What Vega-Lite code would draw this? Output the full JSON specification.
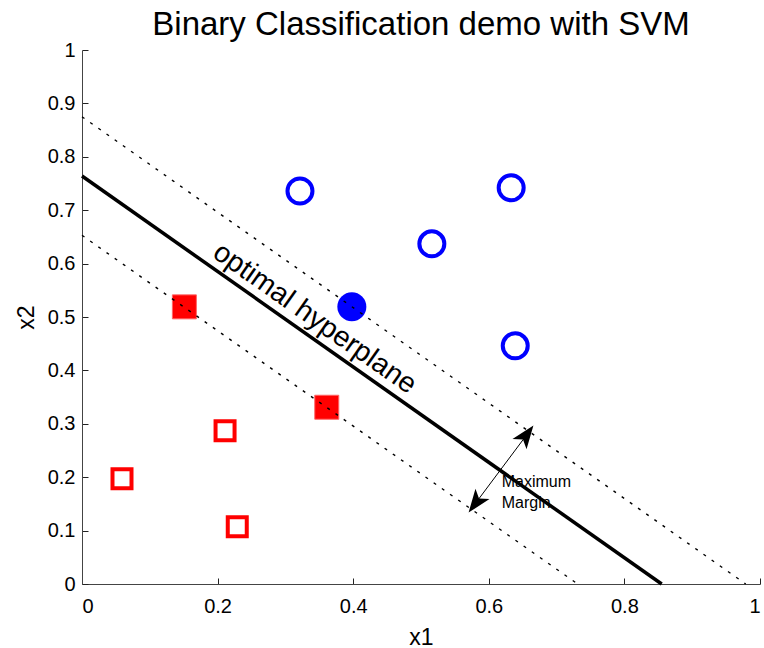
{
  "$schema": "https://vega.github.io/schema/vega-lite/v6.json",
  "width": 678,
  "height": 534,
  "autosize": "none",
  "padding": {"left": 82, "top": 50, "right": 4, "bottom": 64},
  "background": "white",
  "config": {
    "view": {"stroke": null},
    "font": "Liberation Sans",
    "axis": {
      "grid": false,
      "domainColor": "#444444",
      "domainWidth": 1,
      "tickColor": "#222222",
      "tickSize": -6,
      "labelFont": "Liberation Sans",
      "labelFontSize": 20,
      "labelColor": "black",
      "titleFont": "Liberation Sans",
      "titleFontSize": 23,
      "titleFontWeight": "normal",
      "titleColor": "black"
    }
  },
  "title": {
    "text": "Binary Classification demo with SVM",
    "font": "Liberation Sans",
    "fontSize": 33,
    "fontWeight": "normal",
    "color": "black",
    "anchor": "middle",
    "baseline": "alphabetic",
    "offset": 14,
    "dy": 42
  },
  "datasets": {
    "samples": [
      {"x1": 0.3215, "x2": 0.736, "label": "+1", "support": false},
      {"x1": 0.516, "x2": 0.637, "label": "+1", "support": false},
      {"x1": 0.633, "x2": 0.742, "label": "+1", "support": false},
      {"x1": 0.639, "x2": 0.446, "label": "+1", "support": false},
      {"x1": 0.398, "x2": 0.519, "label": "+1", "support": true},
      {"x1": 0.059, "x2": 0.197, "label": "-1", "support": false},
      {"x1": 0.211, "x2": 0.287, "label": "-1", "support": false},
      {"x1": 0.229, "x2": 0.107, "label": "-1", "support": false},
      {"x1": 0.151, "x2": 0.519, "label": "-1", "support": true},
      {"x1": 0.361, "x2": 0.331, "label": "-1", "support": true}
    ],
    "boundaries": [
      {"name": "hyperplane", "x1": 0, "x2": 0.764},
      {"name": "hyperplane", "x1": 0.855, "x2": 0},
      {"name": "margin +1", "x1": 0, "x2": 0.875},
      {"name": "margin +1", "x1": 0.979, "x2": 0},
      {"name": "margin -1", "x1": 0, "x2": 0.653},
      {"name": "margin -1", "x1": 0.731, "x2": 0}
    ],
    "marginArrow": [
      {"end": "low", "x1": 0.575, "x2": 0.142},
      {"end": "high", "x1": 0.661, "x2": 0.288}
    ],
    "arrowHeads": [
      {"end": "low", "x1": 0.5830, "x2": 0.1556},
      {"end": "high", "x1": 0.6530, "x2": 0.2751}
    ],
    "notes": [
      {"note": "hyperplane", "x1": 0.3437, "x2": 0.498, "text": "optimal hyperplane"},
      {"note": "margin", "x1": 0.619, "x2": 0.1816, "text": "Maximum\nMargin"}
    ]
  },
  "encoding": {
    "x": {
      "field": "x1", "type": "quantitative",
      "scale": {"domain": [0, 1], "nice": false, "zero": false},
      "axis": {"title": "x1", "values": [0, 0.2, 0.4, 0.6, 0.8, 1], "format": ".1~f", "labelPadding": 18, "titlePadding": 10}
    },
    "y": {
      "field": "x2", "type": "quantitative",
      "scale": {"domain": [0, 1], "nice": false, "zero": false},
      "axis": {"title": "x2", "values": [0, 0.1, 0.2, 0.3, 0.4, 0.5, 0.6, 0.7, 0.8, 0.9, 1], "format": ".1~f", "labelPadding": 13, "titlePadding": 9}
    }
  },
  "layer": [
    {
      "data": {"name": "samples"},
      "transform": [{"filter": "datum.label == '+1' && !datum.support"}],
      "mark": {"type": "point", "shape": "circle", "filled": false, "stroke": "#0000ff", "strokeWidth": 4, "size": 625, "opacity": 1}
    },
    {
      "data": {"name": "samples"},
      "transform": [{"filter": "datum.label == '+1' && datum.support"}],
      "mark": {"type": "point", "shape": "circle", "filled": true, "fill": "#0000ff", "size": 841, "opacity": 1}
    },
    {
      "data": {"name": "samples"},
      "transform": [{"filter": "datum.label == '-1' && !datum.support"}],
      "mark": {"type": "point", "shape": "square", "filled": false, "stroke": "#ff0000", "strokeWidth": 4, "size": 361, "opacity": 1}
    },
    {
      "data": {"name": "samples"},
      "transform": [{"filter": "datum.label == '-1' && datum.support"}],
      "mark": {"type": "point", "shape": "square", "filled": true, "fill": "#ff0000", "stroke": "#ff6666", "strokeWidth": 1, "size": 576, "opacity": 1}
    },
    {
      "data": {"name": "boundaries"},
      "transform": [{"filter": "datum.name != 'hyperplane'"}],
      "mark": {"type": "line", "color": "black", "strokeWidth": 1.4, "strokeDash": [3, 7]},
      "encoding": {"detail": {"field": "name"}}
    },
    {
      "data": {"name": "notes"},
      "transform": [{"filter": "datum.note == 'hyperplane'"}],
      "mark": {"type": "text", "angle": 35.1, "fontSize": 28.5, "font": "Liberation Sans", "color": "black", "align": "center", "baseline": "middle"},
      "encoding": {"text": {"field": "text"}}
    },
    {
      "data": {"name": "notes"},
      "transform": [{"filter": "datum.note == 'margin'"}],
      "mark": {"type": "text", "fontSize": 16, "font": "Liberation Sans", "color": "black", "align": "left", "baseline": "alphabetic", "lineBreak": "\n", "lineHeight": 21},
      "encoding": {"text": {"field": "text"}}
    },
    {
      "data": {"name": "boundaries"},
      "transform": [{"filter": "datum.name == 'hyperplane'"}],
      "mark": {"type": "line", "color": "black", "strokeWidth": 3.5}
    },
    {
      "data": {"name": "marginArrow"},
      "mark": {"type": "line", "color": "black", "strokeWidth": 1}
    },
    {
      "data": {"name": "arrowHeads"},
      "transform": [{"filter": "datum.end == 'high'"}],
      "mark": {"type": "point", "shape": "M0,-1L0.6,0.6L0,0.2L-0.6,0.6Z", "angle": 36.6, "filled": true, "fill": "black", "size": 850, "opacity": 1}
    },
    {
      "data": {"name": "arrowHeads"},
      "transform": [{"filter": "datum.end == 'low'"}],
      "mark": {"type": "point", "shape": "M0,-1L0.6,0.6L0,0.2L-0.6,0.6Z", "angle": 216.6, "filled": true, "fill": "black", "size": 850, "opacity": 1}
    }
  ]
}
